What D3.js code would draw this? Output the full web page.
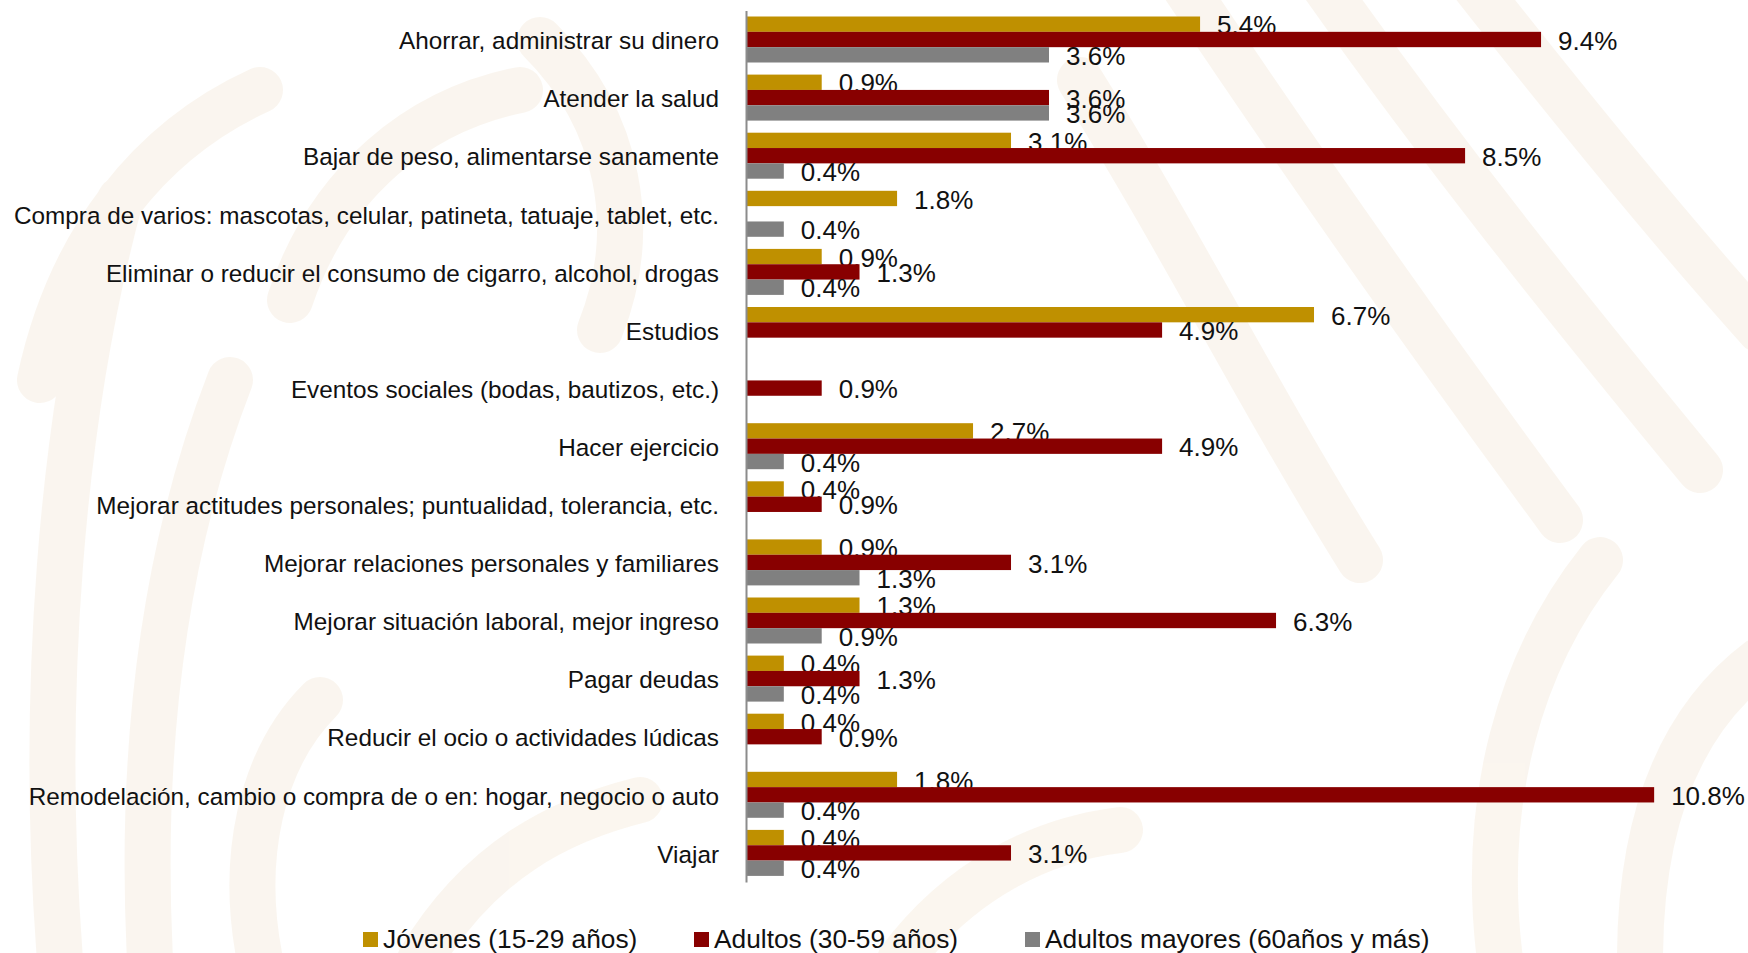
<!DOCTYPE html>
<html>
<head>
<meta charset="utf-8">
<script src="https://cdn.jsdelivr.net/npm/d3@7"></script>
<style>
  html, body { margin: 0; padding: 0; background: #fff; }
  svg { display: block; }
  .cat text { font-family: "Liberation Sans", Arial, sans-serif; font-size: 24.3px; fill: #111; }
  .val { font-family: "Liberation Sans", Arial, sans-serif; font-size: 26px; fill: #111; }
  .legend text { font-family: "Liberation Sans", Arial, sans-serif; font-size: 26.3px; fill: #111; }
</style>
</head>
<body>
<div id="chart"></div>
<script>
// categories (top to bottom)
const categories = [
  "Ahorrar, administrar su dinero",
  "Atender la salud",
  "Bajar de peso, alimentarse sanamente",
  "Compra de varios: mascotas, celular, patineta, tatuaje, tablet, etc.",
  "Eliminar o reducir el consumo de cigarro, alcohol, drogas",
  "Estudios",
  "Eventos sociales (bodas, bautizos, etc.)",
  "Hacer ejercicio",
  "Mejorar actitudes personales; puntualidad, tolerancia, etc.",
  "Mejorar relaciones personales y familiares",
  "Mejorar situación laboral, mejor ingreso",
  "Pagar deudas",
  "Reducir el ocio o actividades lúdicas",
  "Remodelación, cambio o compra de o en: hogar, negocio o auto",
  "Viajar"
];

const seriesNames = ["Jóvenes (15-29 años)", "Adultos (30-59 años)", "Adultos mayores (60años y más)"];
const seriesColors = ["#bf9000", "#880000", "#808080"];

// percentages (null = no bar)
const jovenes = [5.38, 0.897, 3.14, 1.79, 0.897, 6.73, null, 2.69, 0.448, 0.897, 1.345, 0.448, 0.448, 1.79, 0.448];
const adultos = [9.42, 3.59, 8.52, null, 1.345, 4.93, 0.897, 4.93, 0.897, 3.14, 6.28, 1.345, 0.897, 10.76, 3.14];
const mayores = [3.59, 3.59, 0.448, 0.448, 0.448, null, null, 0.448, null, 1.345, 0.897, 0.448, null, 0.448, 0.448];

const W = 1748, H = 953;

const svg = d3.select("#chart").append("svg")
  .attr("width", W)
  .attr("height", H);

// faint background ornament
const deco = svg.append("g")
  .attr("fill", "none")
  .attr("stroke", "#f8f0e5")
  .attr("stroke-linecap", "round")
  .attr("stroke-width", 46)
  .attr("opacity", 0.6);
const decoPaths = [
  "M60,960 C40,700 60,420 120,200",
  "M150,960 C140,760 160,560 230,380",
  "M40,380 C70,240 150,140 260,90",
  "M290,300 C330,180 420,110 520,90",
  "M540,40 C620,120 640,230 600,330",
  "M1180,-20 C1300,160 1420,330 1560,520",
  "M1320,-20 C1440,150 1560,300 1700,470",
  "M1470,-20 C1580,120 1670,230 1760,330",
  "M1080,80 C1180,240 1260,400 1360,560",
  "M1500,960 C1480,800 1520,660 1600,560",
  "M1640,960 C1640,820 1680,720 1760,660",
  "M900,960 C960,880 1040,840 1120,830",
  "M420,960 C480,860 560,820 640,800",
  "M260,960 C240,860 260,760 320,700"
];
deco.selectAll("path").data(decoPaths).join("path").attr("d", d => d);

// scales
const x = d3.scaleLinear().domain([0, 12]).range([746, 746 + 12 * 84.4]);
const y = d3.scaleBand().domain(categories).range([10.5, 882]);
const ySub = d3.scaleBand().domain(d3.range(3)).range([6, 52]);

const rows = categories.map((c, i) => ({
  cat: c,
  vals: [jovenes[i], adultos[i], mayores[i]]
}));

// bars
const groups = svg.append("g").selectAll("g.row")
  .data(rows)
  .join("g")
  .attr("class", "row")
  .attr("transform", d => `translate(0,${y(d.cat)})`);

const cells = groups.selectAll("g.cell")
  .data(d => d.vals.map((v, k) => ({ v, k })).filter(e => e.v != null))
  .join("g")
  .attr("class", "cell");

cells.append("rect")
  .attr("x", x(0))
  .attr("y", d => ySub(d.k))
  .attr("width", d => x(d.v) - x(0))
  .attr("height", ySub.bandwidth())
  .attr("fill", d => seriesColors[d.k]);

cells.append("text")
  .attr("class", "val")
  .attr("x", d => x(d.v) + 17)
  .attr("y", d => ySub(d.k) + ySub.bandwidth() + 2.5)
  .text(d => d.v.toFixed(1) + "%");

// category axis
const axis = svg.append("g")
  .attr("class", "cat")
  .attr("transform", `translate(${x(0)},0)`)
  .call(d3.axisLeft(y).tickSize(0).tickSizeOuter(0).tickPadding(27));
axis.select(".domain").attr("stroke", "#8c8c8c").attr("stroke-width", 2);
axis.selectAll(".tick text").attr("dy", "0.4em");
axis.attr("font-family", null).attr("font-size", null);

// legend
const legendX = [363, 694, 1025];
const legend = svg.append("g").attr("class", "legend")
  .selectAll("g")
  .data(seriesNames)
  .join("g")
  .attr("transform", (d, i) => `translate(${legendX[i]},932)`);
legend.append("rect")
  .attr("width", 15).attr("height", 15)
  .attr("fill", (d, i) => seriesColors[i]);
legend.append("text")
  .attr("x", 20).attr("y", 16)
  .text(d => d);
</script>
</body>
</html>
